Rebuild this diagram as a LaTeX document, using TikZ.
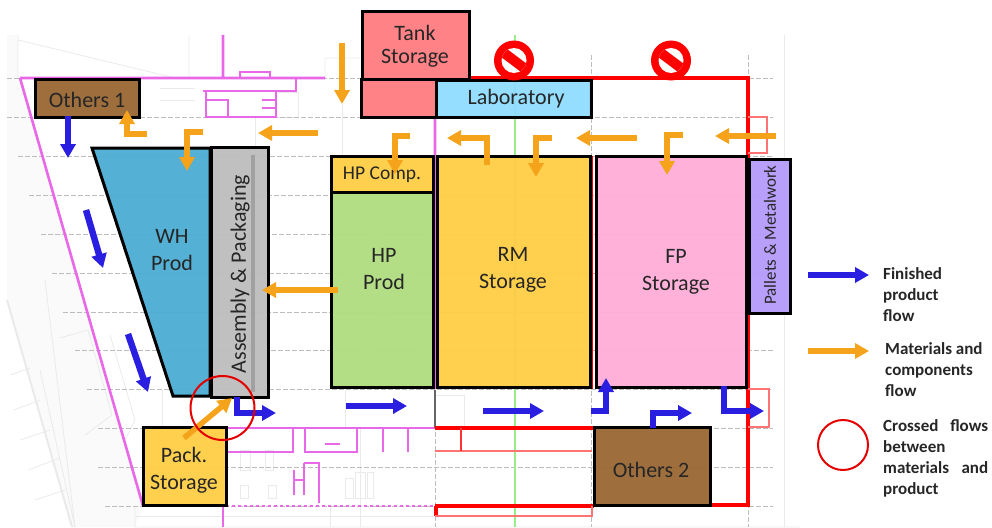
\documentclass[tikz,border=0pt]{standalone}
\usepackage{fontspec}
\setmainfont{Carlito}
\usetikzlibrary{arrows.meta,positioning}
\definecolor{TankRed}{HTML}{FF7C80}
\definecolor{LabBlue}{HTML}{8FDCFF}
\definecolor{OtherBrown}{HTML}{996633}
\definecolor{ProdBlue}{HTML}{4BACD2}
\definecolor{AsmGray}{HTML}{BDBDBD}
\definecolor{StoreYellow}{HTML}{FFCC44}
\definecolor{ProdGreen}{HTML}{B0DC80}
\definecolor{StorePink}{HTML}{FFADD8}
\definecolor{PalletViolet}{HTML}{B49AFA}
\definecolor{FlowBlue}{HTML}{2A1FE0}
\definecolor{FlowOrange}{HTML}{F5A31A}
\definecolor{WallMagenta}{HTML}{E868E8}
\definecolor{GridGray}{HTML}{BDBDBD}
\definecolor{PlanGray}{HTML}{EAEAEA}
\definecolor{AxisGreen}{HTML}{98EE88}

\begin{document}
\begin{tikzpicture}[x=1pt,y=-1pt,
  area/.style={draw=black, line width=3pt, inner sep=0pt, align=center, fill opacity=0.95, text opacity=1, font=\fontsize{22}{27}\selectfont, text=black!85},
  areatext/.style={inner sep=0pt, align=center, font=\fontsize{22}{27}\selectfont, text=black!85},
  bluearr/.style={-{Triangle[length=14pt,width=15pt]}, line width=6.5pt, FlowBlue},
  orangearr/.style={-{Triangle[length=14pt,width=15pt]}, line width=5.5pt, FlowOrange},
  gridline/.style={GridGray, line width=0.9pt, dash pattern=on 5pt off 2pt},
  wall/.style={WallMagenta, line width=2.6pt},
  redwall/.style={red, line width=3.8pt},
  thinred/.style={red!55, line width=1.3pt},
  planline/.style={PlanGray, line width=0.8pt},
  legend/.style={inner sep=0pt, align=left, anchor=north west, font=\fontsize{17}{21}\selectfont\bfseries, text=black!85}
]
\useasboundingbox (0,0) rectangle (992,527);
% plan behind the areas
\fill[black!2] (7,35) -- (18,35) -- (18,78) -- (20,78) -- (143,506) -- (135,527) -- (72,527) -- (7,300) -- cycle;
\draw[planline] (18,35) -- (18,78) (18,40) -- (175,78) (189,35) -- (189,78) (325,58) -- (362,58) -- (362,78) (325,58) -- (325,78);
\draw[planline, line width=2pt] (7,300) -- (72,527);
\draw[planline] (10,375) -- (30,368) (14,410) -- (40,400) (20,440) -- (50,430) (28,470) -- (60,458) (35,500) -- (65,490) (40,370) -- (75,527);
\draw[planline] (60,338) -- (88,330) -- (112,415) -- (85,435) (45,280) -- (75,527);
\draw[planline] (110,335) -- (135,420) -- (125,440) (135,506) -- (135,527) -- (800,527);
\draw[planline] (135,516) -- (434,516) (784,35) -- (784,527);
\draw[planline] (255,117) -- (255,156) (342,104) -- (342,156) (345,390) -- (345,428) (162,390) -- (162,428);
\draw[planline] (275,92) -- (298,92) -- (298,117) -- (275,117) (160,88) -- (195,88) (160,100) -- (195,100);
\draw[planline] (240,450) rectangle (250,470) (265,450) rectangle (273,470) (240,485) rectangle (248,498) (268,485) rectangle (276,498);
\draw[planline] (345,478) rectangle (353,498) (355,472) rectangle (365,498) (367,472) rectangle (373,498) (434,395) rectangle (464,428);
\draw[planline] (360,428) -- (360,527) (330,506) -- (330,527);
\foreach \yy/\xa/\xb in {78/7/773, 117/7/773, 156/18/773, 195/29/773, 234/41/773, 273/52/773, 312/63/773, 350/75/773, 389/87/773, 428/98/773, 467/98/773, 506/105/773}
  \draw[gridline] (\xa,\yy) -- (\xb,\yy);
\draw[gridline] (435,117) -- (435,527) (591,55) -- (591,527) (748,55) -- (748,527);
\draw[AxisGreen, line width=1.2pt] (515,35) -- (515,527);
\draw[wall] (223,35) -- (223,78) (20,78) -- (143,506) (20,78) -- (325,78) (435,117) -- (435,389);
\draw[wall] (240,78) -- (240,72) -- (270,72) -- (270,78);
\draw[wall] (140,78) -- (140,117) (203,91) -- (296,91) -- (296,78) (206,91) -- (206,117) -- (276,117) -- (276,91);
\draw[wall] (206,100) -- (228,100) -- (228,117) (262,100) -- (276,100) (262,108) -- (276,108);
\draw[wall] (226,428) -- (435,428) (226,452) -- (293,452) -- (293,428);
\draw[wall] (305,428) -- (305,452) -- (357,452) -- (357,428) (325,444) -- (340,444) (383,428) -- (383,452) (408,428) -- (408,452);
\draw[wall] (294,470) -- (294,495) (304,463) -- (304,495) (294,480) -- (304,480) (304,463) -- (319,463) -- (319,503);
\draw[wall, dashed] (226,506) -- (435,506);
\draw[wall] (223,506) -- (223,527);
\draw[black!60, line width=1.2pt] (435,390) -- (435,428);
\draw[redwall] (469,78) -- (748,78) -- (748,505) -- (710,505) (591,78) -- (591,117);
\draw[redwall] (435,428) -- (594,428) (435,506) -- (594,506) (436,506) -- (436,516);
\draw[redwall] (591,156) -- (591,389);
\draw[thinred] (435,451) -- (592,451) (435,516) -- (592,516) -- (592,506) (748,117) -- (767,117) -- (767,153) -- (748,153) (748,389) -- (769,389) -- (769,427) -- (748,427);
\draw[red!80, line width=1.6pt] (461,428) -- (461,451);
% areas
\node[area, fill=TankRed, minimum width=107pt, minimum height=67pt] (tank) at (415.5,45.5) {};
\node[areatext, font=\fontsize{22}{23}\selectfont] (tanktext) at (415,46) {Tank\\Storage};
\node[area, fill=TankRed, minimum width=75pt, minimum height=38pt] (tanklow) at (399,98) {};
\node[area, fill=LabBlue, minimum width=155pt, minimum height=37pt] (lab) at (513.5,98.5) {};
\node[areatext] (labtext) at (516,99) {Laboratory};
\node[area, fill=OtherBrown, minimum width=104pt, minimum height=38pt] (others1) at (87,98) {};
\node[areatext] (others1text) at (87,100) {Others 1};
\draw[black, line width=3pt, fill=ProdBlue, fill opacity=0.95] (92,148) -- (210,148) -- (210,396) -- (173,396) -- cycle;
\node[areatext] (wh) at (172,250) {WH\\Prod};
\node[area, fill=AsmGray, minimum width=57pt, minimum height=250pt] (asm) at (239.5,272) {};
\fill[black!45, opacity=0.6] (251,155) rectangle (255,392);
\node[areatext, rotate=90] (asmtext) at (240,274) {Assembly \& Packaging};
\node[area, fill=StoreYellow, minimum width=102pt, minimum height=36pt] (hpcomp) at (382,174) {};
\node[areatext, font=\fontsize{19.5}{20}\selectfont] (hpcomptext) at (382,174.5) {HP Comp.};
\node[area, fill=ProdGreen, minimum width=102pt, minimum height=195pt] (hpprod) at (382,289.5) {};
\node[areatext] (hptext) at (384,269) {HP\\Prod};
\node[area, fill=StoreYellow, minimum width=153pt, minimum height=231pt] (rm) at (513.5,271.5) {};
\node[areatext] (rmtext) at (513,270) {RM\\Storage};
\node[area, fill=StorePink, minimum width=150pt, minimum height=231pt] (fp) at (671,271.5) {};
\node[areatext] (fptext) at (676,272) {FP\\Storage};
\node[area, fill=PalletViolet, minimum width=41pt, minimum height=154pt] (pallets) at (769.5,236) {};
\node[areatext, rotate=90, font=\fontsize{17}{20}\selectfont] (pallettext) at (770,235) {Pallets \& Metalwork};
\node[area, fill=StoreYellow, minimum width=83pt, minimum height=78pt] (pack) at (185,466) {};
\node[areatext] (packtext) at (184,470) {Pack.\\Storage};
\node[area, fill=OtherBrown, minimum width=116pt, minimum height=78pt] (others2) at (652,466) {};
\node[areatext] (others2text) at (651,470) {Others 2};
% no entry signs
\foreach \cx/\nm in {514/signa, 671/signb} {
  \node[circle, fill=red, minimum size=40pt, inner sep=0pt] (\nm) at (\cx,60.5) {};
  \begin{scope}
    \clip (\cx,60.5) circle (12.5pt);
    \fill[white] (\cx-14,46) rectangle (\cx+14,75);
    \draw[red, line width=10pt] (\cx-14,50) -- (\cx+14,71);
  \end{scope}
}
% blue flows
\coordinate (b1a) at (68,116);  \coordinate (b1b) at (68,158);
\coordinate (b2a) at (86,210);  \coordinate (b2b) at (103,268);
\coordinate (b3a) at (128,334); \coordinate (b3b) at (148,392);
\coordinate (b4a) at (237,397); \coordinate (b4b) at (237,413); \coordinate (b4c) at (276,413);
\coordinate (b5a) at (346,406); \coordinate (b5b) at (407,406);
\coordinate (b6a) at (483,411); \coordinate (b6b) at (544,411);
\coordinate (b7a) at (591,411); \coordinate (b7b) at (606,411); \coordinate (b7c) at (606,378);
\coordinate (b8a) at (653,428); \coordinate (b8b) at (653,413); \coordinate (b8c) at (692,413);
\coordinate (b9a) at (724,386); \coordinate (b9b) at (724,411); \coordinate (b9c) at (764,411);
\draw[bluearr] (b1a) -- (b1b);
\draw[bluearr] (b2a) -- (b2b);
\draw[bluearr] (b3a) -- (b3b);
\draw[bluearr] (b4a) -- (b4b) -- (b4c);
\draw[bluearr] (b5a) -- (b5b);
\draw[bluearr] (b6a) -- (b6b);
\draw[bluearr] (b7a) -- (b7b) -- (b7c);
\draw[bluearr] (b8a) -- (b8b) -- (b8c);
\draw[bluearr] (b9a) -- (b9b) -- (b9c);
% orange flows
\coordinate (o1a) at (342,43);  \coordinate (o1b) at (342,104);
\coordinate (o2a) at (147,134); \coordinate (o2b) at (127,134); \coordinate (o2c) at (127,110);
\coordinate (o3a) at (203,132); \coordinate (o3b) at (187,132); \coordinate (o3c) at (187,171);
\coordinate (o4a) at (318,133); \coordinate (o4b) at (258,133);
\coordinate (o5a) at (410,136); \coordinate (o5b) at (395,136); \coordinate (o5c) at (395,174);
\coordinate (o6a) at (487,165); \coordinate (o6b) at (487,138); \coordinate (o6c) at (447,138);
\coordinate (o7a) at (552,138); \coordinate (o7b) at (536,138); \coordinate (o7c) at (536,177);
\coordinate (o8a) at (637,138); \coordinate (o8b) at (576,138);
\coordinate (o9a) at (683,135); \coordinate (o9b) at (667,135); \coordinate (o9c) at (667,175);
\coordinate (o10a) at (776,136); \coordinate (o10b) at (715,136);
\coordinate (o11a) at (338,290); \coordinate (o11b) at (262,290);
\coordinate (o12a) at (184,438); \coordinate (o12b) at (232,398);
\draw[orangearr] (o1a) -- (o1b);
\draw[orangearr] (o2a) -- (o2b) -- (o2c);
\draw[orangearr] (o3a) -- (o3b) -- (o3c);
\draw[orangearr] (o4a) -- (o4b);
\draw[orangearr] (o5a) -- (o5b) -- (o5c);
\draw[orangearr] (o6a) -- (o6b) -- (o6c);
\draw[orangearr] (o7a) -- (o7b) -- (o7c);
\draw[orangearr] (o8a) -- (o8b);
\draw[orangearr] (o9a) -- (o9b) -- (o9c);
\draw[orangearr] (o10a) -- (o10b);
\draw[orangearr] (o11a) -- (o11b);
\draw[orangearr] (o12a) -- (o12b);
% crossing mark
\node[circle, draw=red!90!black, line width=2pt, minimum size=64pt, inner sep=0pt] (cross) at (222.5,408) {};
% legend
\coordinate (lba) at (808,275); \coordinate (lbb) at (869,275);
\coordinate (loa) at (808,351); \coordinate (lob) at (869,351);
\draw[bluearr] (lba) -- (lbb);
\draw[orangearr] (loa) -- (lob);
\node[circle, draw=red!90!black, line width=2pt, minimum size=50pt, inner sep=0pt] (lcross) at (843,445) {};
\node[legend] (ltxtb) at (883,267) {Finished\\product\\flow};
\node[legend] (ltxto) at (885,342) {Materials and\\components\\flow};
\node[legend] (ltxtc) at (883,419.5) {\hbox to 105pt{Crossed\hfill flows}\\between\\\hbox to 105pt{materials\hfill and}\\product};
\end{tikzpicture}
\end{document}
